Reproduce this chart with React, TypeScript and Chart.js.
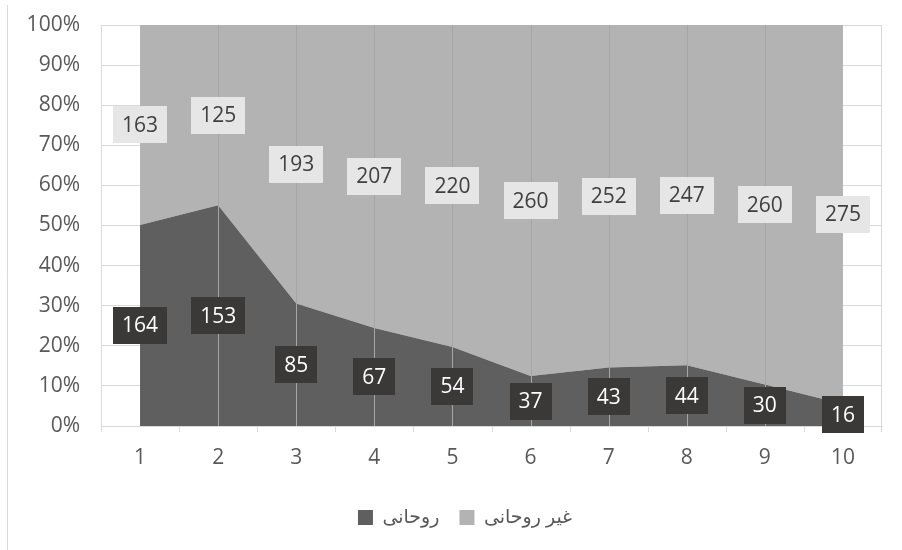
import React, { useEffect, useRef } from "react";
import { Chart, registerables } from "chart.js";

Chart.register(...registerables);

const categories = ["1", "2", "3", "4", "5", "6", "7", "8", "9", "10"];
const clericValues = [164, 153, 85, 67, 54, 37, 43, 44, 30, 16];
const nonClericValues = [163, 125, 193, 207, 220, 260, 252, 247, 260, 275];
const seriesNames = ["روحانی", "غیر روحانی"];
const yTicks = [0, 10, 20, 30, 40, 50, 60, 70, 80, 90, 100];

const FONT = "'Open Sans', 'DejaVu Sans', sans-serif";

const totals = clericValues.map((v, i) => v + nonClericValues[i]);
const clericPct = clericValues.map((v, i) => (v / totals[i]) * 100);
const nonClericPct = nonClericValues.map((v, i) => (v / totals[i]) * 100);

const overlayPlugin = {
  id: "overlay",
  afterLayout(chart: any) {
    const lg = chart.legend;
    if (lg) {
      lg.left += 24;
      lg.right += 24;
    }
  },
  afterDatasetsDraw(chart: any) {
    const { ctx, chartArea, scales } = chart;
    const x = scales.x;
    const y = scales.y;
    ctx.save();
    // vertical grid lines drawn over the areas
    ctx.strokeStyle = "#a6a6a6";
    ctx.lineWidth = 1;
    for (let i = 1; i < categories.length - 1; i++) {
      const px = Math.round(x.getPixelForValue(i)) + 0.5;
      ctx.beginPath();
      ctx.moveTo(px, chartArea.top);
      ctx.lineTo(px, chartArea.bottom);
      ctx.stroke();
    }
    // right edge and tick marks
    ctx.strokeStyle = "#d9d9d9";
    const rx = Math.round(chartArea.right) - 0.5;
    ctx.beginPath();
    ctx.moveTo(rx, chartArea.top);
    ctx.lineTo(rx, chartArea.bottom);
    ctx.stroke();
    const step = (chartArea.right - chartArea.left) / categories.length;
    for (let k = 0; k <= categories.length; k++) {
      const px = Math.round(chartArea.left + k * step) + (k === categories.length ? -0.5 : 0.5);
      ctx.beginPath();
      ctx.moveTo(px, chartArea.bottom);
      ctx.lineTo(px, chartArea.bottom + 6);
      ctx.stroke();
    }
    // outer left border
    ctx.beginPath();
    ctx.moveTo(7.5, 5);
    ctx.lineTo(7.5, 550);
    ctx.stroke();

    // data labels
    ctx.font = `21px ${FONT}`;
    ctx.textAlign = "center";
    ctx.textBaseline = "middle";
    const boxH = 37;
    const padX = 9;
    const drawLabel = (text: string, cx: number, cy: number, bg: string, fg: string) => {
      const w = ctx.measureText(text).width + padX * 2;
      ctx.fillStyle = bg;
      ctx.fillRect(Math.round(cx - w / 2), Math.round(cy - boxH / 2), Math.round(w), boxH);
      ctx.fillStyle = fg;
      ctx.fillText(text, cx, cy + 1);
    };
    for (let i = 0; i < categories.length; i++) {
      const cx = x.getPixelForValue(i);
      const cyDark = y.getPixelForValue(clericPct[i] / 2);
      const cyLight = y.getPixelForValue(clericPct[i] + nonClericPct[i] / 2);
      drawLabel(String(clericValues[i]), cx, cyDark, "#3b3838", "#ffffff");
      drawLabel(String(nonClericValues[i]), cx, cyLight, "#e7e6e6", "#404040");
    }
    ctx.restore();
  },
};

export default function App() {
  const canvasRef = useRef<HTMLCanvasElement | null>(null);

  useEffect(() => {
    const canvas = canvasRef.current;
    if (!canvas) return;
    const chart = new Chart(canvas, {
      type: "line",
      data: {
        labels: categories,
        datasets: [
          {
            label: seriesNames[0],
            data: clericPct,
            backgroundColor: "#5f5f5f",
            borderColor: "#5f5f5f",
            borderWidth: 0,
            pointRadius: 0,
            fill: "origin",
            tension: 0,
          },
          {
            label: seriesNames[1],
            data: nonClericPct,
            backgroundColor: "#b3b3b3",
            borderColor: "#b3b3b3",
            borderWidth: 0,
            pointRadius: 0,
            fill: "-1",
            tension: 0,
          },
        ],
      },
      options: {
        responsive: false,
        animation: false,
        devicePixelRatio: 1,
        layout: { padding: { left: 0, right: 20, top: 25, bottom: 13 } },
        plugins: {
          legend: {
            position: "bottom",
            labels: {
              boxWidth: 15,
              boxHeight: 15,
              padding: 20,
              color: "#595959",
              font: { family: FONT, size: 19 },
              generateLabels: (chart: any) =>
                chart.data.datasets.map((ds: any, i: number) => ({
                  text: ds.label,
                  fillStyle: ds.backgroundColor,
                  strokeStyle: ds.backgroundColor,
                  lineWidth: 0,
                  hidden: false,
                  datasetIndex: i,
                  fontColor: "#595959",
                })),
            },
          },
          tooltip: { enabled: false },
        },
        scales: {
          x: {
            type: "category",
            offset: true,
            grid: { offset: false, color: "#d9d9d9", drawTicks: false },
            border: { display: true, color: "#d9d9d9" },
            ticks: { color: "#595959", font: { family: FONT, size: 21 }, padding: 19 },
            afterFit: (scale: any) => {
              scale.height = 62;
            },
          },
          y: {
            stacked: true,
            min: 0,
            max: 100,
            afterBuildTicks: (scale: any) => {
              scale.ticks = yTicks.map((v) => ({ value: v }));
            },
            grid: { color: "#d9d9d9", drawTicks: false },
            border: { display: true, color: "#d9d9d9" },
            ticks: {
              color: "#595959",
              font: { family: FONT, size: 21 },
              padding: 21,
              callback: (v: any) => `${v}%`,
            },
            afterFit: (scale: any) => {
              scale.width = 101;
              scale.paddingTop = 0;
              scale.paddingBottom = 0;
            },
          },
        },
      },
      plugins: [overlayPlugin],
    });
    return () => chart.destroy();
  }, []);

  return (
    <div style={{ position: "fixed", left: 0, top: 0, width: 902, height: 550, background: "#ffffff" }}>
      <canvas ref={canvasRef} width={902} height={550} style={{ width: 902, height: 550, display: "block" }} />
    </div>
  );
}
